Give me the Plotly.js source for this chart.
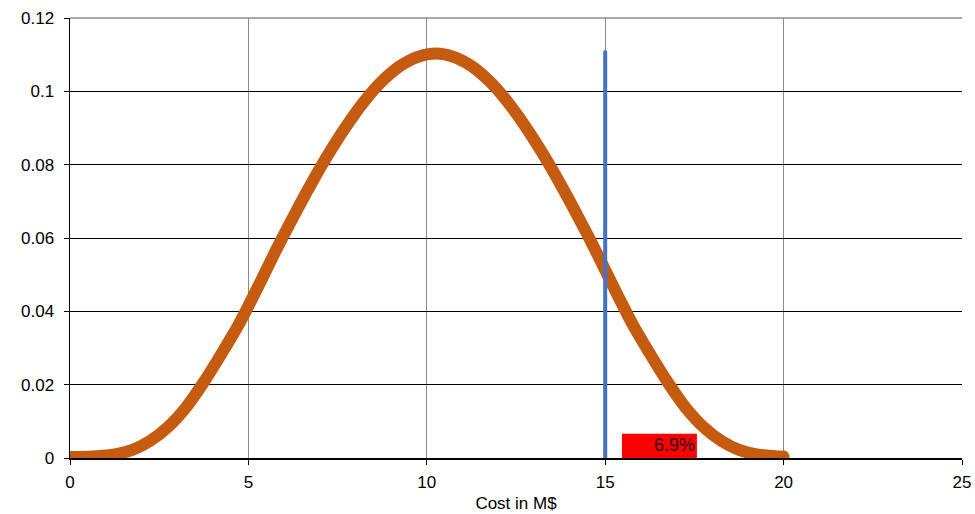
<!DOCTYPE html>
<html>
<head>
<meta charset="utf-8">
<script src="https://cdn.plot.ly/plotly-3.0.1.min.js"></script>
<style>
  html, body { margin: 0; padding: 0; background: #ffffff; }
  #chart { width: 975px; height: 514px; }
  #chart path.js-line { stroke-linecap: round; }
</style>
</head>
<body>
<div id="chart"></div>
<script>
// Cost values (M$) and probability density
var costX = [0, 0.25, 0.75, 1.25, 1.75, 2.25, 2.75, 3.25, 3.75, 4.25, 4.75, 5.25, 5.75, 6.25,
             6.75, 7.25, 7.75, 8.25, 8.75, 9.25, 9.75, 10.25, 10.75, 11.25, 11.75, 12.25,
             12.75, 13.25, 13.75, 14.25, 14.75, 15.25, 15.75, 16.25, 16.75, 17.25, 17.75,
             18.25, 18.75, 19.25, 19.75, 20];
var density = [0.0003, 0.0003, 0.0005, 0.0010, 0.0022, 0.0047, 0.0085, 0.0138, 0.0207, 0.0285,
               0.0368, 0.0463, 0.0562, 0.0656, 0.0746, 0.0830, 0.0906, 0.0973, 0.1028, 0.1069,
               0.1094, 0.1103, 0.1094, 0.1069, 0.1028, 0.0973, 0.0906, 0.0830, 0.0746, 0.0656,
               0.0562, 0.0463, 0.0368, 0.0285, 0.0207, 0.0138, 0.0085, 0.0047, 0.0022, 0.0010,
               0.0005, 0.0004];

// Threshold marker and exceedance label
var thresholdX = [15, 15];
var thresholdY = [0, 0.1107];
var exceedLabel = "6.9%";
var labelBoxX = [15.47, 17.57];
var labelBoxY = [0, 0.0066];

var xTicks = [0, 5, 10, 15, 20, 25];
var yTicks = [0, 0.02, 0.04, 0.06, 0.08, 0.1, 0.12];
var yTickText = ["0", "0.02", "0.04", "0.06", "0.08", "0.1", "0.12"];

var FONT = "Arial, 'Liberation Sans', sans-serif";

var traces = [
  {
    x: costX, y: density, type: "scatter", mode: "lines",
    line: { color: "#C55A11", width: 12, shape: "spline", smoothing: 0.8 },
    hoverinfo: "x+y", showlegend: false
  },
  {
    x: thresholdX, y: thresholdY, type: "scatter", mode: "lines",
    line: { color: "#4472C4", width: 4 },
    hoverinfo: "skip", showlegend: false
  }
];

var layout = {
  width: 975, height: 514,
  margin: { l: 70, r: 13, t: 18, b: 56 },
  paper_bgcolor: "#ffffff", plot_bgcolor: "#ffffff",
  font: { family: FONT, size: 17, color: "#000000" },
  showlegend: false,
  xaxis: {
    range: [0, 25], tickvals: xTicks, ticktext: xTicks.map(String),
    showgrid: true, gridcolor: "#8c8c8c", gridwidth: 1,
    showline: true, linecolor: "#000000", linewidth: 1.5,
    ticks: "outside", ticklen: 5, tickcolor: "#000000", tickwidth: 1,
    ticklabelstandoff: 3,
    zeroline: false, fixedrange: true,
    tickfont: { family: FONT, size: 17, color: "#000000" },
    title: { text: "Cost in M$", font: { family: FONT, size: 17, color: "#000000" }, standoff: 6 }
  },
  yaxis: {
    range: [0, 0.12], tickvals: yTicks, ticktext: yTickText,
    showgrid: true, gridcolor: "#000000", gridwidth: 1,
    showline: true, linecolor: "#000000", linewidth: 1.5,
    ticks: "outside", ticklen: 5, tickcolor: "#000000", tickwidth: 1,
    ticklabelstandoff: 6,
    zeroline: false, fixedrange: true,
    tickfont: { family: FONT, size: 17, color: "#000000" }
  },
  shapes: [
    { type: "line", xref: "paper", yref: "paper", x0: 0, x1: 1, y0: 1, y1: 1,
      line: { color: "#8c8c8c", width: 1.5 }, layer: "between" },
    { type: "rect", xref: "x", yref: "y",
      x0: labelBoxX[0], x1: labelBoxX[1], y0: labelBoxY[0], y1: labelBoxY[1],
      fillcolor: "#FF0000", line: { width: 0 }, layer: "below" }
  ],
  annotations: [
    { x: labelBoxX[1], y: (labelBoxY[0] + labelBoxY[1]) / 2, xref: "x", yref: "y",
      text: exceedLabel, showarrow: false, xanchor: "right", yanchor: "middle",
      font: { family: FONT, size: 18, color: "#2a0000" }, xshift: 0, yshift: 1 }
  ]
};

Plotly.newPlot("chart", traces, layout, { displayModeBar: false, staticPlot: true });
</script>
</body>
</html>
